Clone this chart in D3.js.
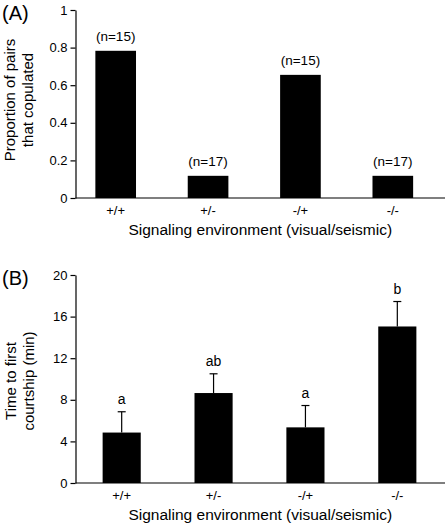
<!DOCTYPE html>
<html>
<head>
<meta charset="utf-8">
<script src="https://cdn.jsdelivr.net/npm/d3@7"></script>
<style>
  html, body { margin: 0; padding: 0; background: #fff; }
  svg text { font-family: "Liberation Sans", Arial, sans-serif; fill: #000; }
</style>
</head>
<body>
<svg id="chart" width="446" height="528"></svg>
<script>
// ---- Data ----
const categories = ["+/+", "+/-", "-/+", "-/-"];
// Panel A: proportion of pairs that copulated
const proportionCopulated = [0.783, 0.118, 0.655, 0.118];
const sampleSizeLabels = ["(n=15)", "(n=17)", "(n=15)", "(n=17)"];
const ticksA = [0, 0.2, 0.4, 0.6, 0.8, 1];
// Panel B: time to first courtship (min), mean and upper error
const timeToCourtship = [4.85, 8.65, 5.35, 15.05];
const timeError = [2.0, 1.85, 2.1, 2.4];
const significanceLetters = ["a", "ab", "a", "b"];
const ticksB = [0, 4, 8, 12, 16, 20];

const xTitle = "Signaling environment (visual/seismic)";

const svg = d3.select("#chart");

function panel(opts) {
  const g = svg.append("g");
  const x = d3.scaleBand().domain(categories).range(opts.xRange)
    .paddingInner(opts.pad).paddingOuter(opts.pad / 2);
  const y = d3.scaleLinear().domain(opts.yDomain).range(opts.yRange);

  // bars
  g.selectAll("rect.bar").data(opts.values).join("rect")
    .attr("class", "bar")
    .attr("x", (d, i) => x(categories[i]))
    .attr("width", x.bandwidth())
    .attr("y", d => y(d))
    .attr("height", d => y(0) - y(d))
    .attr("fill", "#000");

  // error bars
  if (opts.errors) {
    opts.values.forEach((v, i) => {
      const cx = x(categories[i]) + x.bandwidth() / 2;
      g.append("line").attr("x1", cx).attr("x2", cx)
        .attr("y1", y(v)).attr("y2", y(v + opts.errors[i]))
        .attr("stroke", "#000").attr("stroke-width", 1.2);
      g.append("line").attr("x1", cx - 4).attr("x2", cx + 4)
        .attr("y1", y(v + opts.errors[i])).attr("y2", y(v + opts.errors[i]))
        .attr("stroke", "#000").attr("stroke-width", 1.2);
    });
  }

  // annotations above bars
  opts.labels.forEach((t, i) => {
    const top = opts.values[i] + (opts.errors ? opts.errors[i] : 0);
    g.append("text")
      .attr("x", x(categories[i]) + x.bandwidth() / 2)
      .attr("y", y(top) - opts.labelGap)
      .attr("text-anchor", "middle")
      .style("font-size", opts.labelSize + "px")
      .text(t);
  });

  // y axis
  const yAxis = d3.axisLeft(y).tickValues(opts.ticks).tickSize(5).tickSizeOuter(0)
    .tickPadding(3).tickFormat(d3.format("~g"));
  const ya = g.append("g").attr("transform", `translate(${opts.axisX},0)`).call(yAxis);
  ya.selectAll("text").style("font-size", "13px").style("font-family", "Liberation Sans, Arial, sans-serif");
  ya.selectAll("line, path").attr("stroke", "#000").attr("stroke-width", 1.2);

  // x axis line
  g.append("line").attr("x1", opts.axisX).attr("x2", opts.axisEnd)
    .attr("y1", y(0)).attr("y2", y(0)).attr("stroke", "#000").attr("stroke-width", 1.2);

  // category labels
  categories.forEach(c => {
    g.append("text").attr("x", x(c) + x.bandwidth() / 2).attr("y", y(0) + 17)
      .attr("text-anchor", "middle").style("font-size", "13px").text(c);
  });

  // x title
  g.append("text").attr("x", (opts.axisX + opts.axisEnd) / 2).attr("y", y(0) + 37)
    .attr("text-anchor", "middle").style("font-size", "15.5px").text(xTitle);

  // y title (two lines)
  opts.yTitle.forEach((t, i) => {
    g.append("text")
      .attr("transform", `translate(${opts.yTitleX[i]},${opts.yTitleY}) rotate(-90)`)
      .attr("text-anchor", "middle").style("font-size", "15px").text(t);
  });

  // panel letter
  g.append("text").attr("x", 2).attr("y", opts.letterY).style("font-size", "20px").text(opts.letter);
}

panel({
  values: proportionCopulated, errors: null, labels: sampleSizeLabels,
  xRange: [69.5, 439], pad: 0.56, yDomain: [0, 1], yRange: [198, 10],
  ticks: ticksA, axisX: 75.5, axisEnd: 445, labelGap: 10, labelSize: 13.5,
  yTitle: ["Proportion of pairs", "that copulated"], yTitleX: [15, 33], yTitleY: 100,
  letter: "(A)", letterY: 20
});

panel({
  values: timeToCourtship, errors: timeError, labels: significanceLetters,
  xRange: [75.75, 443.25], pad: 0.585, yDomain: [0, 20], yRange: [483, 275],
  ticks: ticksB, axisX: 75.5, axisEnd: 445, labelGap: 8, labelSize: 14,
  yTitle: ["Time to first", "courtship (min)"], yTitleX: [16, 34], yTitleY: 381,
  letter: "(B)", letterY: 285
});
</script>
</body>
</html>
